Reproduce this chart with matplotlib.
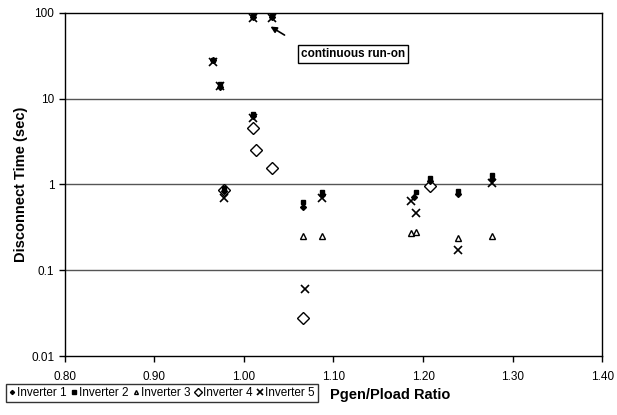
import matplotlib
matplotlib.use("Agg")
import matplotlib.pyplot as plt
from matplotlib.ticker import FixedLocator, NullLocator

plt.rcParams['font.family'] = ['Liberation Sans', 'DejaVu Sans']

inv1_x = [0.966, 0.973, 1.010, 1.031, 1.010, 0.978, 1.066, 1.087, 1.190, 1.208, 1.239, 1.277]
inv1_y = [28, 13.5, 90, 90, 6.2, 0.85, 0.55, 0.75, 0.72, 1.10, 0.78, 1.15]

inv2_x = [0.966, 0.973, 1.010, 1.031, 1.010, 0.978, 1.066, 1.087, 1.192, 1.208, 1.239, 1.277]
inv2_y = [28, 15, 92, 92, 6.7, 0.90, 0.62, 0.82, 0.82, 1.18, 0.85, 1.30]

inv3_x = [1.066, 1.087, 1.186, 1.192, 1.239, 1.277]
inv3_y = [0.25, 0.25, 0.27, 0.28, 0.24, 0.25]

inv4_x = [1.010, 1.013, 1.031, 0.978, 1.066, 1.208]
inv4_y = [4.6, 2.5, 1.55, 0.87, 0.028, 0.95]

inv5_x = [0.966, 0.973, 1.010, 1.031, 1.010, 0.978, 1.068, 1.087, 1.186, 1.192, 1.239, 1.277]
inv5_y = [27, 14, 88, 88, 6.0, 0.70, 0.06, 0.70, 0.64, 0.47, 0.17, 1.05]

x_ticks = [0.80, 0.90, 1.00, 1.10, 1.20, 1.30, 1.40]
x_tick_labels = ["0.80", "0.90", "1.00", "1.10", "1.20", "1.30", "1.40"]
y_ticks = [0.01, 0.1, 1, 10, 100]
y_tick_labels = ["0.01", "0.1", "1", "10", "100"]

fig = plt.figure(figsize=(6.17, 4.15), dpi=100)
ax = fig.add_axes([0.105, 0.142, 0.871, 0.827])

ax.set_yscale('log')
ax.set_xlim(0.80, 1.40)
ax.set_ylim(0.01, 100)

for y in [0.1, 1, 10]:
    ax.axhline(y, color='#555555', lw=1.0, zorder=1)

h1, = ax.plot(inv1_x, inv1_y, ls='none', marker='D', ms=3, color='black', zorder=3, label='Inverter 1')
h2, = ax.plot(inv2_x, inv2_y, ls='none', marker='s', ms=3.5, color='black', zorder=3, label='Inverter 2')
h3, = ax.plot(inv3_x, inv3_y, ls='none', marker='^', ms=4, mfc='white', mec='black', mew=1.0, zorder=3, label='Inverter 3')
h4, = ax.plot(inv4_x, inv4_y, ls='none', marker='D', ms=6, mfc='white', mec='black', mew=1.0, zorder=2, label='Inverter 4')
h5, = ax.plot(inv5_x, inv5_y, ls='none', marker='x', ms=6, color='black', mew=1.2, zorder=4, label='Inverter 5')

ax.xaxis.set_major_locator(FixedLocator(x_ticks))
ax.set_xticklabels(x_tick_labels)
ax.yaxis.set_major_locator(FixedLocator(y_ticks))
ax.yaxis.set_minor_locator(NullLocator())
ax.set_yticklabels(y_tick_labels)
ax.tick_params(axis='both', labelsize=8.5, direction='out', length=4, width=1, color='black')
ax.tick_params(axis='x', pad=7)

for s in ax.spines.values():
    s.set_color('black')
    s.set_linewidth(1.0)

ax.set_ylabel('Disconnect Time (sec)', fontsize=10.5, fontweight='bold', labelpad=2)

ax.text(1.122, 33, 'continuous run-on', fontsize=8.5, fontweight='bold', ha='center', va='center',
        bbox=dict(boxstyle='square,pad=0.25', fc='white', ec='black', lw=1.0), zorder=5)
ax.annotate('', xy=(1.027, 72), xytext=(1.048, 53),
            arrowprops=dict(arrowstyle='-|>', color='black', lw=1.2, mutation_scale=9))

leg = fig.legend(handles=[h1, h2, h3, h4, h5], loc='lower left', bbox_to_anchor=(0.006, 0.025),
                 ncol=5, fontsize=8.5, frameon=True, fancybox=False, handlelength=0.5,
                 handletextpad=0.2, columnspacing=0.35, borderpad=0.25, borderaxespad=0.2,
                 markerscale=0.7)
leg.get_frame().set_edgecolor('black')
leg.get_frame().set_linewidth(1.0)

fig.text(0.535, 0.048, 'Pgen/Pload Ratio', fontsize=10.5, fontweight='bold', ha='left', va='center')

fig.savefig('out.png', dpi=100)
